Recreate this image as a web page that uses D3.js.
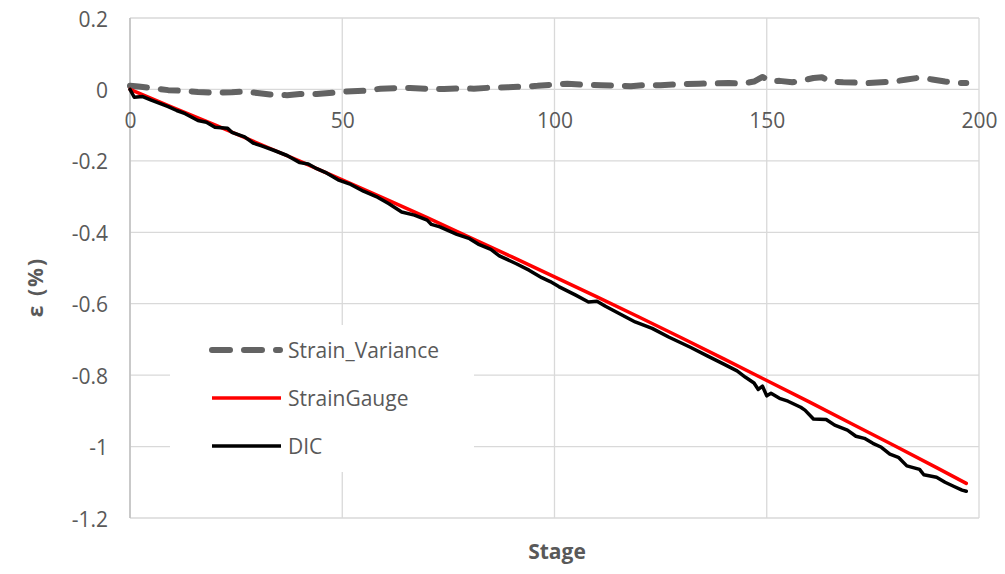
<!DOCTYPE html>
<html>
<head>
<meta charset="utf-8">
<script src="https://cdn.jsdelivr.net/npm/d3@7"></script>
<style>
  body { margin: 0; background: #fff; }
  text { font-family: "Open Sans", "Noto Sans", "DejaVu Sans", sans-serif; fill: #595959; }
</style>
</head>
<body>
<div id="chart"></div>
<script>
// series names, in the order Excel draws them
const seriesNames = ["Strain_Variance", "StrainGauge", "DIC"];

// Strain_Variance (dashed grey)
const varianceStage = [0, 2, 5, 9, 13, 16, 20, 24, 27, 30, 33, 37, 40, 44, 48, 51, 55, 59, 63, 66, 70, 74, 78, 81, 85, 89, 93, 96, 100, 103, 107, 111, 114, 118, 121, 125, 130, 134, 138, 141, 144, 147, 149, 151, 153, 156, 158, 161, 163, 165, 168, 171, 174, 177, 180, 183, 186, 189, 192, 195, 197];
const varianceValue = [0.010, 0.008, 0.004, -0.002, -0.004, -0.007, -0.009, -0.008, -0.006, -0.010, -0.014, -0.016, -0.013, -0.013, -0.009, -0.006, -0.004, 0.002, 0.004, 0.004, 0.002, 0.001, 0.003, 0.002, 0.005, 0.006, 0.008, 0.010, 0.014, 0.016, 0.013, 0.012, 0.011, 0.009, 0.012, 0.012, 0.015, 0.016, 0.017, 0.018, 0.016, 0.022, 0.035, 0.022, 0.024, 0.020, 0.024, 0.032, 0.034, 0.022, 0.020, 0.019, 0.018, 0.020, 0.022, 0.028, 0.033, 0.028, 0.022, 0.018, 0.018];

// StrainGauge (red)
const gaugeStage = [0, 10, 20, 30, 40, 50, 60, 70, 80, 90, 100, 110, 120, 130, 140, 150, 160, 170, 180, 190, 197];
const gaugeValue = [0, -0.050, -0.099, -0.150, -0.201, -0.253, -0.306, -0.359, -0.414, -0.469, -0.525, -0.581, -0.638, -0.696, -0.755, -0.815, -0.875, -0.936, -0.997, -1.059, -1.103];

// DIC (black)
const dicStage = [0, 1, 3, 5, 7, 9, 11, 13, 16, 18, 20, 23, 24, 27, 29, 31, 34, 37, 40, 42, 44, 46, 49, 52, 55, 58, 61, 64, 67, 70, 71, 73, 77, 80, 82, 85, 87, 91, 94, 97, 99, 101, 105, 108, 110, 112, 115, 119, 123, 127, 132, 136, 140, 143, 145, 147, 148, 149, 150, 151, 153, 155, 158, 159, 161, 164, 166, 169, 171, 173, 175, 177, 179, 181, 183, 186, 187, 190, 192, 194, 196, 197];
const dicValue = [0, -0.022, -0.020, -0.030, -0.039, -0.048, -0.059, -0.068, -0.087, -0.092, -0.106, -0.109, -0.120, -0.133, -0.150, -0.158, -0.171, -0.185, -0.205, -0.209, -0.222, -0.232, -0.253, -0.266, -0.285, -0.300, -0.320, -0.343, -0.352, -0.366, -0.378, -0.385, -0.406, -0.418, -0.433, -0.448, -0.466, -0.488, -0.506, -0.527, -0.538, -0.552, -0.576, -0.595, -0.593, -0.607, -0.626, -0.651, -0.669, -0.694, -0.722, -0.746, -0.770, -0.788, -0.806, -0.822, -0.840, -0.831, -0.858, -0.851, -0.865, -0.873, -0.890, -0.898, -0.923, -0.924, -0.940, -0.954, -0.971, -0.977, -0.991, -1.002, -1.021, -1.030, -1.054, -1.064, -1.079, -1.086, -1.100, -1.111, -1.122, -1.125];

const xTicks = [0, 50, 100, 150, 200];
const yTicks = [0.2, 0, -0.2, -0.4, -0.6, -0.8, -1, -1.2];

// set the dimensions and margins of the graph
var margin = {top: 18, right: 26, bottom: 56, left: 130},
    width = 1005 - margin.left - margin.right,
    height = 574 - margin.top - margin.bottom;

var svg = d3.select("#chart")
  .append("svg")
    .attr("width", 1005)
    .attr("height", 574)
  .append("g")
    .attr("transform", "translate(" + margin.left + "," + margin.top + ")");

var x = d3.scaleLinear().domain([0, 200]).range([0, width]);
var y = d3.scaleLinear().domain([-1.2, 0.2]).range([height, 0]);

// gridlines
svg.append("g").selectAll("line.h")
  .data(yTicks)
  .join("line")
    .attr("x1", 0).attr("x2", width)
    .attr("y1", d => y(d)).attr("y2", d => y(d))
    .attr("stroke", "#d9d9d9").attr("stroke-width", 1.3);
svg.append("g").selectAll("line.v")
  .data(xTicks)
  .join("line")
    .attr("x1", d => x(d)).attr("x2", d => x(d))
    .attr("y1", 0).attr("y2", height)
    .attr("stroke", "#d9d9d9").attr("stroke-width", 1.3);

// left axis line
svg.append("line")
  .attr("x1", 0).attr("x2", 0).attr("y1", 0).attr("y2", height)
  .attr("stroke", "#bfbfbf").attr("stroke-width", 1.5);

// Y axis labels
var yAxis = svg.append("g")
  .call(d3.axisLeft(y).tickValues(yTicks).tickSize(0).tickPadding(22).tickFormat(d => String(d)));
yAxis.select(".domain").remove();
yAxis.selectAll("text")
  .attr("dy", 8)
  .style("font-size", "21px")
  .style("font-family", "'Open Sans', 'Noto Sans', sans-serif")
  .attr("fill", "#595959");

// X axis labels, crossing at y = 0
var xAxis = svg.append("g")
  .attr("transform", "translate(0," + y(0) + ")")
  .call(d3.axisBottom(x).tickValues(xTicks).tickSize(0).tickFormat(d => String(d)));
xAxis.select(".domain").remove();
xAxis.selectAll("text")
  .attr("y", 38.5)
  .attr("dy", 0)
  .style("font-size", "21px")
  .style("font-family", "'Open Sans', 'Noto Sans', sans-serif")
  .attr("fill", "#595959");

// lines
var line = d3.line()
  .x(d => x(d[0]))
  .y(d => y(d[1]));

var series = [
  {name: seriesNames[0], pts: d3.zip(varianceStage, varianceValue), color: "#636363", w: 6, dash: "17,14"},
  {name: seriesNames[1], pts: d3.zip(gaugeStage, gaugeValue), color: "#ff0000", w: 3.5, dash: null},
  {name: seriesNames[2], pts: d3.zip(dicStage, dicValue), color: "#000000", w: 3.5, dash: null}
];

series.forEach(s => {
  svg.append("path")
    .datum(s.pts)
    .attr("fill", "none")
    .attr("stroke", s.color)
    .attr("stroke-width", s.w)
    .attr("stroke-linecap", "round")
    .attr("stroke-linejoin", "round")
    .attr("stroke-dasharray", s.dash)
    .attr("d", line);
});

// legend
var legend = svg.append("g")
  .attr("transform", "translate(" + (170 - margin.left) + "," + (325 - margin.top) + ")");
legend.append("rect")
  .attr("width", 304).attr("height", 147)
  .attr("fill", "#fff");
series.forEach((s, i) => {
  var ly = 25 + i * 48;
  legend.append("line")
    .attr("x1", 42).attr("x2", s.dash ? 110 : 111)
    .attr("y1", ly).attr("y2", ly)
    .attr("stroke", s.color)
    .attr("stroke-width", s.dash ? 6 : 3.5)
    .attr("stroke-linecap", s.dash ? "round" : "butt")
    .attr("stroke-dasharray", s.dash ? "18,14" : null);
  legend.append("text")
    .attr("x", 118).attr("y", ly)
    .attr("dy", "0.36em")
    .style("font-size", "21px")
    .text(s.name);
});

// axis titles
svg.append("text")
  .attr("x", 557 - margin.left)
  .attr("y", 559 - margin.top)
  .attr("text-anchor", "middle")
  .style("font-size", "21px")
  .style("font-weight", "bold")
  .text("Stage");

svg.append("text")
  .attr("transform", "translate(" + (43 - margin.left) + "," + (287 - margin.top) + ") rotate(-90)")
  .attr("text-anchor", "middle")
  .style("font-size", "21px")
  .style("font-weight", "bold")
  .style("letter-spacing", "2px")
  .text("ε (%)");
</script>
</body>
</html>
